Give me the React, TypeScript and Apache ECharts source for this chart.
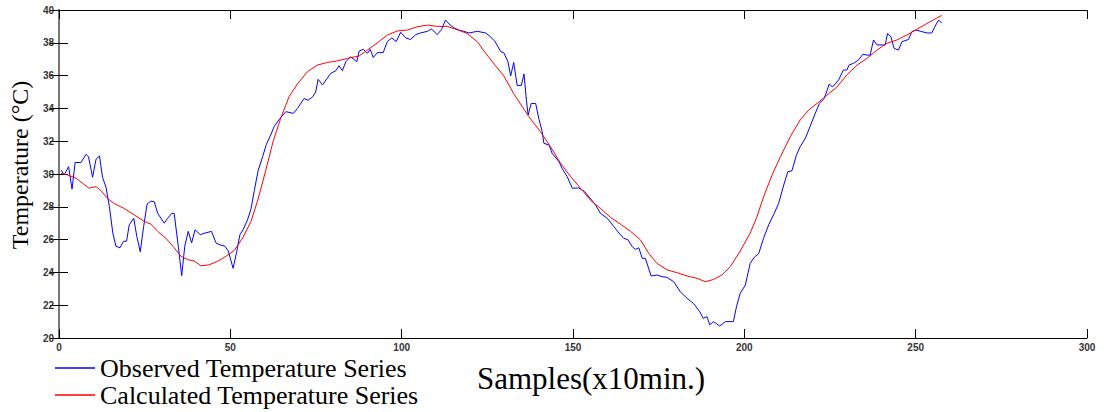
import React, { useEffect, useRef } from "react";
import * as echarts from "echarts";

const obsSamples = [
  0.6, 1.5, 2.8, 3.8, 4.7, 6.4, 7.9, 8.6, 9.8, 10.8, 11.8, 12.7, 13.7, 14.7, 15.7, 16.6, 17.8, 18.8, 19.7, 20.5,
  21.8, 22.7, 23.7, 24.7, 25.7, 26.8, 27.8, 28.8, 30.7, 31.7, 32.9, 33.6, 34.8, 35.8, 36.7, 37.7, 38.7, 39.7, 41.2, 42.6,
  44.5, 45.8, 46.7, 48.4, 49.4, 50.8, 51.8, 52.8, 53.7, 55.0, 56.0, 57.0, 58.1, 59.4, 60.5, 61.6, 62.8, 64.5, 66.2, 68.4,
  69.6, 71.5, 72.7, 74.0, 74.9, 75.6, 76.9, 79.3, 80.8, 81.7, 82.7, 83.7, 85.1, 86.9, 87.6, 88.8, 90.0, 90.8, 91.7, 92.9,
  94.6, 95.8, 97.1, 98.4, 99.7, 101.2, 102.6, 104.1, 105.5, 107.5, 108.7, 110.4, 111.6, 112.8, 113.8, 115.3, 117.0, 118.2, 119.6, 122.1,
  124.5, 125.7, 127.2, 128.9, 129.8, 131.0, 131.8, 132.7, 133.7, 134.9, 135.7, 136.4, 136.9, 137.8, 139.1, 140.0, 141.0, 141.5, 143.0, 143.9,
  145.9, 146.8, 148.3, 149.8, 151.7, 153.4, 155.1, 156.6, 158.0, 160.0, 161.9, 163.4, 164.8, 166.0, 167.3, 168.2, 169.2, 170.2, 171.1, 172.8,
  174.5, 176.0, 177.4, 179.4, 181.3, 183.3, 185.2, 187.0, 188.0, 189.1, 189.9, 191.0, 192.8, 194.5, 196.8, 197.7, 198.8, 200.3, 201.7, 202.9,
  204.2, 205.6, 207.1, 208.5, 210.0, 211.5, 212.7, 213.9, 215.2, 216.3, 217.8, 219.2, 220.7, 221.9, 223.3, 224.8, 225.7, 227.5, 228.9, 229.9,
  230.6, 231.9, 233.3, 234.6, 235.8, 236.7, 237.7, 238.7, 240.3, 241.1, 241.8, 242.8, 243.7, 245.0, 246.0, 247.9, 248.9, 250.1, 251.8, 253.3,
  254.7, 255.7, 256.7, 257.6,
];
const obsTemps = [
  30.24, 29.94, 30.45, 29.08, 30.7, 30.7, 31.2, 31.05, 29.8, 30.9, 31.1, 29.8, 29.2, 28.0, 26.4, 25.6, 25.5, 25.9, 25.9, 26.9,
  27.3, 26.2, 25.26, 26.8, 28.17, 28.35, 28.3, 27.6, 27.0, 27.3, 27.6, 27.6, 25.6, 23.8, 25.6, 26.5, 25.8, 26.6, 26.3, 26.4,
  26.5, 25.8, 25.7, 25.6, 25.3, 24.25, 25.2, 26.3, 26.6, 27.2, 27.85, 29.0, 30.2, 31.05, 31.8, 32.3, 32.9, 33.4, 33.8, 33.7,
  34.0, 34.6, 34.5, 34.7, 35.0, 35.77, 35.43, 36.14, 36.3, 36.6, 36.3, 36.85, 37.15, 36.85, 37.5, 37.6, 37.36, 37.6, 37.1, 37.4,
  37.4, 38.07, 38.3, 38.07, 38.64, 38.3, 38.2, 38.5, 38.6, 38.7, 38.84, 38.5, 38.8, 39.39, 39.15, 38.9, 38.75, 38.7, 38.6, 38.7,
  38.6, 38.4, 38.1, 37.46, 37.4, 36.85, 35.98, 36.8, 35.4, 35.4, 36.1, 34.5, 33.6, 34.3, 34.3, 33.4, 32.58, 31.87, 31.77, 31.26,
  30.75, 30.35, 29.84, 29.13, 29.15, 28.92, 28.5, 28.1, 27.6, 27.3, 26.8, 26.4, 26.08, 26.0, 25.57, 25.4, 25.5, 24.86, 24.86, 23.78,
  23.84, 23.74, 23.7, 23.43, 22.82, 22.42, 22.1, 21.6, 21.2, 21.3, 20.8, 21.0, 20.73, 21.0, 21.0, 21.9, 22.73, 23.23, 24.55, 24.92,
  25.15, 26.08, 26.9, 27.5, 28.2, 29.33, 30.14, 30.2, 31.16, 31.67, 32.18, 32.9, 33.7, 34.3, 34.6, 35.49, 35.3, 35.73, 36.34, 36.34,
  36.65, 36.75, 36.95, 37.3, 37.25, 37.25, 38.17, 37.87, 37.87, 37.87, 38.58, 38.36, 37.66, 37.56, 38.07, 38.2, 38.68, 38.78, 38.68, 38.6,
  38.6, 39.02, 39.39, 39.2,
];

const calcSamples = [
  0.6, 2.5, 5.0, 6.9, 8.8, 10.8, 12.2, 14.2, 16.1, 19.0, 22.0, 24.9, 26.8, 28.8, 31.2, 33.6, 35.6, 37.5, 39.4, 41.4,
  43.8, 46.3, 48.7, 51.1, 53.6, 56.0, 58.0, 60.3, 62.5, 64.7, 67.1, 69.6, 72.5, 75.4, 78.3, 81.3, 84.2, 87.6, 90.0, 92.9,
  95.8, 98.7, 101.7, 104.6, 107.5, 110.4, 113.3, 116.2, 119.1, 122.1, 124.5, 127.4, 129.8, 132.7, 135.2, 137.1, 140.5, 143.4, 146.4, 149.3,
  152.2, 155.1, 158.0, 160.9, 163.8, 166.8, 169.7, 172.1, 174.5, 177.5, 180.4, 183.3, 186.2, 188.6, 191.0, 193.5, 195.9, 198.8, 201.7, 203.7,
  205.6, 208.1, 210.5, 213.4, 216.3, 218.8, 221.2, 224.1, 227.0, 229.9, 232.9, 235.8, 238.7, 241.6, 244.5, 247.4, 250.3, 253.3, 255.2, 257.6,
];
const calcTemps = [
  30.04, 29.94, 29.74, 29.43, 29.13, 29.23, 29.0, 28.5, 28.2, 27.9, 27.5, 27.1, 26.95, 26.5, 26.08, 25.5, 24.98, 24.78, 24.7, 24.4,
  24.46, 24.68, 24.98, 25.33, 26.1, 27.1, 28.4, 30.2, 32.0, 33.4, 34.7, 35.5, 36.24, 36.64, 36.8, 36.9, 37.05, 37.2, 37.56, 38.0,
  38.47, 38.72, 38.78, 38.98, 39.08, 39.0, 39.0, 38.8, 38.57, 38.06, 37.36, 36.6, 35.98, 34.9, 34.1, 33.5, 32.58, 31.67, 30.65, 29.84,
  29.13, 28.4, 27.9, 27.36, 26.95, 26.5, 25.98, 25.16, 24.55, 24.15, 23.98, 23.78, 23.64, 23.43, 23.57, 23.85, 24.35, 25.3, 26.4, 27.4,
  28.6, 29.94, 31.05, 32.27, 33.3, 33.9, 34.3, 34.8, 35.3, 36.04, 36.64, 37.05, 37.56, 37.97, 38.17, 38.47, 38.82, 39.18, 39.4, 39.67,
];

const seriesNames = ["Observed Temperature Series", "Calculated Temperature Series"];
const xTicks = { min: 0, max: 300, interval: 50 };
const yTicks = { min: 20, max: 40, interval: 2 };

const serif = "'Liberation Serif', 'Times New Roman', serif";
const sans = "'Liberation Sans', Arial, sans-serif";

export default function App() {
  const ref = useRef<HTMLDivElement>(null);

  useEffect(() => {
    document.body.style.margin = "0";
    if (!ref.current) return;
    const chart = echarts.init(ref.current, undefined, { renderer: "svg" });

    const obsData = obsSamples.map((x, i) => [x, obsTemps[i]]);
    const calcData = calcSamples.map((x, i) => [x, calcTemps[i]]);

    const tickStyle = { inside: true, length: 9, lineStyle: { color: "#000", width: 1 } };

    chart.setOption({
      animation: false,
      backgroundColor: "#fff",
      grid: { left: 58, top: 10, right: 20, bottom: 74, containLabel: false },
      legend: {
        orient: "vertical",
        left: 55,
        top: 355,
        padding: 0,
        icon: "rect",
        itemWidth: 40,
        itemHeight: 1.5,
        itemGap: 1,
        textStyle: { fontFamily: serif, fontSize: 26, color: "#000", lineHeight: 26 },
        data: seriesNames,
      },
      xAxis: [
        {
          type: "value",
          min: xTicks.min,
          max: xTicks.max,
          interval: xTicks.interval,
          position: "bottom",
          name: "Samples(x10min.)",
          nameLocation: "middle",
          nameGap: 25,
          nameTextStyle: { fontFamily: serif, fontSize: 31, color: "#000", padding: [0, 0, 0, 36] },
          axisLine: { lineStyle: { color: "#000", width: 1 } },
          axisTick: tickStyle,
          axisLabel: { fontFamily: sans, fontSize: 10, fontWeight: "bold", color: "#333", margin: 4 },
          splitLine: { show: false },
        },
        {
          type: "value",
          min: xTicks.min,
          max: xTicks.max,
          interval: xTicks.interval,
          position: "top",
          axisLine: { lineStyle: { color: "#000", width: 1 } },
          axisTick: tickStyle,
          axisLabel: { show: false },
          splitLine: { show: false },
        },
      ],
      yAxis: [
        {
          type: "value",
          min: yTicks.min,
          max: yTicks.max,
          interval: yTicks.interval,
          position: "left",
          name: "Temperature (°C)",
          nameLocation: "middle",
          nameRotate: 90,
          nameGap: 22,
          nameTextStyle: { fontFamily: serif, fontSize: 24, color: "#000", padding: [0, 0, 0, 18] },
          axisLine: { lineStyle: { color: "#000", width: 1 } },
          axisTick: tickStyle,
          axisLabel: { fontFamily: sans, fontSize: 10, fontWeight: "bold", color: "#333", margin: 5 },
          splitLine: { show: false },
        },
        {
          type: "value",
          min: yTicks.min,
          max: yTicks.max,
          interval: yTicks.interval,
          position: "right",
          axisLine: { lineStyle: { color: "#777", width: 2 } },
          axisTick: tickStyle,
          axisLabel: { show: false },
          splitLine: { show: false },
        },
      ],
      series: [
        {
          name: seriesNames[0],
          type: "line",
          xAxisIndex: 0,
          yAxisIndex: 0,
          data: obsData,
          symbol: "none",
          showSymbol: false,
          color: "#0000ff",
          lineStyle: { color: "#0000ff", width: 1 },
        },
        {
          name: seriesNames[1],
          type: "line",
          xAxisIndex: 0,
          yAxisIndex: 0,
          data: calcData,
          symbol: "none",
          showSymbol: false,
          color: "#ff0000",
          lineStyle: { color: "#ff0000", width: 1 },
        },
      ],
    });

    return () => chart.dispose();
  }, []);

  return <div ref={ref} style={{ width: 1107, height: 412 }} />;
}
